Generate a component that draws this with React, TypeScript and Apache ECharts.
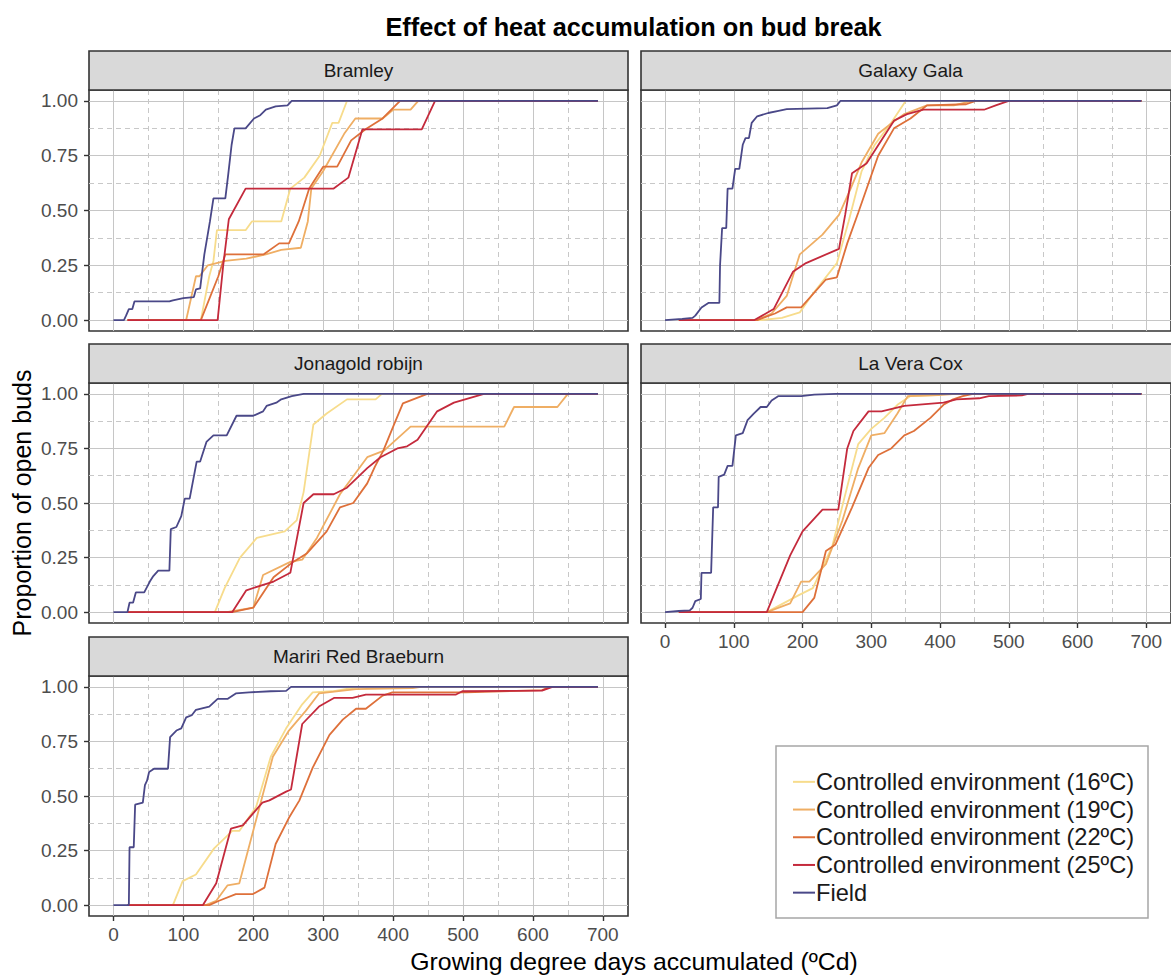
import React, { useEffect, useRef } from "react";
import * as echarts from "echarts";

const panelNames = ["Bramley", "Galaxy Gala", "Jonagold robijn", "La Vera Cox", "Mariri Red Braeburn"];
const groupNames = [
  "Controlled environment (16ºC)",
  "Controlled environment (19ºC)",
  "Controlled environment (22ºC)",
  "Controlled environment (25ºC)",
  "Field",
];
const groupColors = ["#F7DC8C", "#EFAE64", "#DE703A", "#C42A3C", "#4A4888"];

const xMajorTicks = [0, 100, 200, 300, 400, 500, 600, 700];
const xMinorTicks = [50, 150, 250, 350, 450, 550, 650];
const yMajorTicks = [0, 0.25, 0.5, 0.75, 1];
const yMinorTicks = [0.125, 0.375, 0.625, 0.875];

// ---- Bramley ----
const bramley16 = [[20,0],[125,0],[137,0.2],[143,0.27],[148,0.41],[189,0.41],[198,0.45],[240,0.45],[253,0.6],[273,0.65],[295,0.75],[313,0.9],[322,0.9],[334,1],[693,1]];
const bramley19 = [[20,0],[104,0],[118,0.2],[123,0.2],[135,0.25],[160,0.27],[190,0.28],[218,0.3],[240,0.32],[268,0.33],[278,0.45],[283,0.6],[300,0.68],[330,0.85],[346,0.92],[385,0.92],[400,0.96],[425,0.96],[436,1],[693,1]];
const bramley22 = [[20,0],[125,0],[150,0.2],[160,0.3],[215,0.3],[237,0.35],[251,0.35],[265,0.45],[280,0.6],[300,0.7],[320,0.7],[340,0.82],[360,0.87],[385,0.92],[410,1],[693,1]];
const bramley25 = [[20,0],[149,0],[157,0.25],[165,0.46],[189,0.6],[315,0.6],[336,0.65],[356,0.87],[441,0.87],[460,1],[693,1]];
const bramleyField = [[0,0],[15,0],[18,0.02],[22,0.05],[27,0.05],[30,0.085],[80,0.085],[85,0.09],[100,0.1],[115,0.105],[118,0.14],[124,0.145],[130,0.3],[138,0.45],[143,0.555],[160,0.555],[164,0.66],[169,0.8],[173,0.875],[189,0.875],[201,0.92],[210,0.935],[218,0.96],[232,0.975],[249,0.98],[255,1],[693,1]];

// ---- Galaxy Gala ----
const gala16 = [[20,0],[140,0],[170,0.01],[196,0.035],[215,0.12],[250,0.26],[267,0.45],[286,0.68],[305,0.8],[329,0.9],[350,1],[693,1]];
const gala19 = [[20,0],[134,0],[155,0.03],[177,0.11],[196,0.3],[229,0.39],[253,0.48],[270,0.6],[286,0.72],[310,0.85],[330,0.9],[348,0.94],[381,0.98],[420,0.98],[447,1],[693,1]];
const gala22 = [[20,0],[134,0],[160,0.03],[177,0.058],[198,0.058],[234,0.185],[250,0.195],[265,0.35],[281,0.49],[310,0.75],[333,0.875],[357,0.92],[381,0.98],[438,0.985],[452,1],[693,1]];
const gala25 = [[20,0],[130,0],[158,0.05],[186,0.22],[205,0.26],[253,0.325],[262,0.48],[272,0.67],[293,0.715],[333,0.91],[352,0.94],[376,0.96],[464,0.96],[481,0.98],[500,1],[693,1]];
const galaField = [[0,0],[25,0.005],[40,0.01],[44,0.02],[53,0.057],[63,0.078],[79,0.078],[80,0.25],[83,0.42],[89,0.42],[91,0.6],[98,0.6],[102,0.69],[108,0.69],[113,0.8],[117,0.83],[122,0.83],[126,0.9],[134,0.93],[150,0.945],[165,0.955],[177,0.963],[236,0.967],[250,0.98],[255,1],[693,1]];

// ---- Jonagold robijn ----
const jona16 = [[20,0],[145,0],[159,0.11],[181,0.25],[205,0.34],[245,0.37],[262,0.42],[272,0.55],[286,0.86],[305,0.91],[334,0.975],[375,0.975],[384,1],[693,1]];
const jona19 = [[20,0],[162,0],[200,0.02],[214,0.17],[253,0.23],[270,0.24],[291,0.34],[324,0.54],[363,0.71],[387,0.74],[425,0.85],[559,0.85],[573,0.94],[635,0.94],[650,1],[693,1]];
const jona22 = [[20,0],[170,0],[200,0.02],[229,0.16],[257,0.23],[277,0.27],[305,0.37],[324,0.48],[343,0.5],[363,0.59],[374,0.667],[386,0.74],[402,0.865],[414,0.957],[449,1],[693,1]];
const jona25 = [[20,0],[170,0],[190,0.1],[229,0.14],[253,0.18],[272,0.5],[286,0.54],[315,0.54],[334,0.57],[363,0.66],[382,0.71],[406,0.75],[420,0.76],[435,0.79],[463,0.92],[487,0.96],[530,1],[693,1]];
const jonaField = [[0,0],[20,0],[23,0.043],[28,0.043],[32,0.09],[44,0.09],[52,0.14],[57,0.165],[64,0.19],[80,0.19],[82,0.38],[90,0.39],[97,0.44],[102,0.52],[109,0.52],[119,0.69],[124,0.69],[133,0.78],[143,0.81],[162,0.81],[176,0.9],[200,0.9],[214,0.92],[219,0.945],[233,0.96],[240,0.975],[255,0.99],[272,1],[693,1]];

// ---- La Vera Cox ----
const cox16 = [[20,0],[148,0],[196,0.08],[215,0.11],[243,0.3],[255,0.45],[267,0.6],[281,0.77],[300,0.84],[319,0.89],[338,0.95],[357,0.99],[395,0.995],[405,1],[693,1]];
const cox19 = [[20,0],[148,0],[182,0.04],[198,0.14],[210,0.14],[234,0.22],[258,0.42],[281,0.66],[300,0.81],[319,0.82],[338,0.91],[353,0.99],[398,0.995],[424,1],[693,1]];
const cox22 = [[20,0],[200,0],[217,0.065],[234,0.28],[248,0.31],[272,0.48],[296,0.66],[310,0.72],[329,0.75],[348,0.81],[362,0.83],[386,0.89],[405,0.95],[419,0.975],[433,0.99],[448,1],[693,1]];
const cox25 = [[20,0],[148,0],[182,0.26],[200,0.37],[229,0.47],[252,0.47],[265,0.75],[274,0.83],[296,0.92],[315,0.92],[348,0.945],[405,0.96],[424,0.975],[457,0.98],[471,0.99],[519,0.993],[528,1],[693,1]];
const coxField = [[0,0],[20,0.005],[36,0.008],[40,0.02],[44,0.05],[52,0.06],[53,0.18],[67,0.18],[70,0.48],[77,0.48],[78,0.62],[86,0.63],[91,0.67],[98,0.67],[103,0.81],[113,0.82],[120,0.88],[129,0.91],[139,0.94],[148,0.94],[155,0.97],[165,0.99],[198,0.99],[217,0.997],[248,1],[693,1]];

// ---- Mariri Red Braeburn ----
const mariri16 = [[20,0],[85,0],[99,0.11],[118,0.14],[144,0.26],[170,0.34],[180,0.34],[204,0.45],[225,0.68],[247,0.81],[270,0.92],[285,0.975],[313,0.98],[342,0.995],[352,1],[693,1]];
const mariri19 = [[20,0],[132,0],[147,0.02],[163,0.09],[180,0.1],[204,0.39],[228,0.68],[251,0.8],[275,0.89],[294,0.97],[347,0.99],[428,0.995],[440,1],[693,1]];
const mariri22 = [[20,0],[137,0],[151,0.02],[175,0.05],[199,0.05],[216,0.08],[232,0.28],[251,0.4],[266,0.48],[285,0.63],[309,0.78],[328,0.85],[347,0.9],[361,0.9],[385,0.96],[399,0.975],[504,0.975],[613,0.985],[625,1],[693,1]];
const mariri25 = [[20,0],[128,0],[147,0.1],[168,0.35],[185,0.365],[213,0.47],[223,0.48],[247,0.52],[254,0.53],[270,0.83],[294,0.91],[316,0.95],[342,0.95],[361,0.965],[490,0.965],[499,0.98],[613,0.983],[628,1],[693,1]];
const maririField = [[0,0],[22,0],[23,0.265],[29,0.265],[31,0.46],[42,0.47],[45,0.55],[48,0.57],[51,0.61],[58,0.625],[78,0.625],[81,0.77],[90,0.8],[97,0.81],[104,0.86],[112,0.87],[118,0.895],[137,0.91],[149,0.945],[163,0.945],[175,0.97],[194,0.975],[225,0.98],[247,0.982],[254,1],[693,1]];

const panelSeries = [
  [bramley16, bramley19, bramley22, bramley25, bramleyField],
  [gala16, gala19, gala22, gala25, galaField],
  [jona16, jona19, jona22, jona25, jonaField],
  [cox16, cox19, cox22, cox25, coxField],
  [mariri16, mariri19, mariri22, mariri25, maririField],
];

const FONT = "'Liberation Sans', Arial, Helvetica, sans-serif";

// layout of panels (pixels)
const panelBoxes = [
  { left: 89, top: 90, width: 539, height: 241 },
  { left: 641, top: 90, width: 539, height: 241 },
  { left: 89, top: 383, width: 539, height: 240 },
  { left: 641, top: 383, width: 539, height: 240 },
  { left: 89, top: 676, width: 539, height: 240 },
];
const STRIP_H = 39;
const showXLabels = [false, false, false, true, true];
const showYLabels = [true, false, true, false, true];

export default function App() {
  const ref = useRef<HTMLDivElement>(null);

  useEffect(() => {
    if (!ref.current) return;
    const chart = echarts.init(ref.current, undefined, { renderer: "svg" });

    const grid: any[] = [];
    const xAxis: any[] = [];
    const yAxis: any[] = [];
    const series: any[] = [];
    const graphic: any[] = [];

    panelBoxes.forEach((b, p) => {
      grid.push({
        left: b.left, top: b.top, width: b.width, height: b.height,
        show: true, backgroundColor: "#ffffff", borderColor: "#333333", borderWidth: 1.6,
        containLabel: false,
      });
      xAxis.push({
        type: "value", gridIndex: p, min: -35, max: 736, position: "bottom",
        axisLine: { show: false, onZero: false },
        axisTick: { show: showXLabels[p], length: 5, customValues: xMajorTicks, lineStyle: { color: "#333", width: 1.4 } },
        axisLabel: { show: showXLabels[p], customValues: xMajorTicks, margin: 9, color: "#4d4d4d", fontSize: 19, fontFamily: FONT },
        splitLine: { show: true, lineStyle: { color: "#c6c6c6", width: 1 } },
      });
      xAxis.push({
        type: "value", gridIndex: p, min: -35, max: 736, position: "top",
        axisLine: { show: false, onZero: false },
        axisTick: { show: false, customValues: xMinorTicks },
        axisLabel: { show: false, customValues: xMinorTicks },
        splitLine: { show: true, lineStyle: { color: "#c8c8c8", width: 1, type: [5, 4] } },
      });
      yAxis.push({
        type: "value", gridIndex: p, min: -0.05, max: 1.05, position: "left",
        axisLine: { show: false, onZero: false },
        axisTick: { show: showYLabels[p], length: 5, customValues: yMajorTicks, lineStyle: { color: "#333", width: 1.4 } },
        axisLabel: {
          show: showYLabels[p], customValues: yMajorTicks, margin: 11, color: "#4d4d4d", fontSize: 19, fontFamily: FONT,
          formatter: (v: number) => v.toFixed(2),
        },
        splitLine: { show: true, lineStyle: { color: "#c6c6c6", width: 1 } },
      });
      yAxis.push({
        type: "value", gridIndex: p, min: -0.05, max: 1.05, position: "right",
        axisLine: { show: false, onZero: false },
        axisTick: { show: false, customValues: yMinorTicks },
        axisLabel: { show: false, customValues: yMinorTicks },
        splitLine: { show: true, lineStyle: { color: "#c8c8c8", width: 1, type: [5, 4] } },
      });

      panelSeries[p].forEach((d, g) => {
        series.push({
          type: "line",
          name: groupNames[g],
          xAxisIndex: 2 * p,
          yAxisIndex: 2 * p,
          data: d,
          showSymbol: false,
          symbol: "none",
          clip: true,
          z: 3 + g,
          lineStyle: { color: groupColors[g], width: 1.8 },
          itemStyle: { color: groupColors[g] },
          emphasis: { disabled: true },
        });
      });

      graphic.push({
        type: "rect", z: 10,
        shape: { x: b.left, y: b.top - STRIP_H, width: b.width, height: STRIP_H },
        style: { fill: "#d9d9d9", stroke: "#333333", lineWidth: 1.6 },
      });
      graphic.push({
        type: "text", z: 11,
        x: b.left + b.width / 2, y: b.top - STRIP_H / 2,
        style: {
          text: panelNames[p], fill: "#1a1a1a", font: `19px ${FONT}`,
          align: "center", verticalAlign: "middle", textAlign: "center", textVerticalAlign: "middle",
        },
      });
    });

    graphic.push({
      type: "text", z: 11, x: 633.5, y: 27,
      style: {
        text: "Effect of heat accumulation on bud break", fill: "#000", font: `bold 25.3px ${FONT}`,
        align: "center", verticalAlign: "middle", textAlign: "center", textVerticalAlign: "middle",
      },
    });
    graphic.push({
      type: "text", z: 11, x: 634, y: 961,
      style: {
        text: "Growing degree days accumulated (ºCd)", fill: "#000", font: `24.8px ${FONT}`,
        align: "center", verticalAlign: "middle", textAlign: "center", textVerticalAlign: "middle",
      },
    });
    graphic.push({
      type: "text", z: 11, x: 22, y: 503, rotation: Math.PI / 2,
      style: {
        text: "Proportion of open buds", fill: "#000", font: `25px ${FONT}`,
        align: "center", verticalAlign: "middle", textAlign: "center", textVerticalAlign: "middle",
      },
    });
    graphic.push({
      type: "rect", z: 1,
      shape: { x: 776, y: 746, width: 372, height: 172 },
      style: { fill: "#ffffff", stroke: "#a6a6a6", lineWidth: 1.5 },
    });

    chart.setOption({
      animation: false,
      backgroundColor: "#ffffff",
      textStyle: { fontFamily: FONT },
      grid,
      xAxis,
      yAxis,
      series,
      graphic,
      legend: {
        show: true,
        data: groupNames,
        orient: "vertical",
        left: 793,
        top: 768,
        padding: 0,
        itemGap: 0,
        itemWidth: 22,
        itemHeight: 2,
        icon: "rect",
        selectedMode: false,
        z: 20,
        textStyle: { fontSize: 23.6, color: "#1a1a1a", fontFamily: FONT, lineHeight: 27.7, padding: [0, 0, 0, -4] },
      },
    });

    return () => chart.dispose();
  }, []);

  return (
    <div
      ref={ref}
      style={{ position: "absolute", left: 0, top: 0, width: 1171, height: 976 }}
    />
  );
}
